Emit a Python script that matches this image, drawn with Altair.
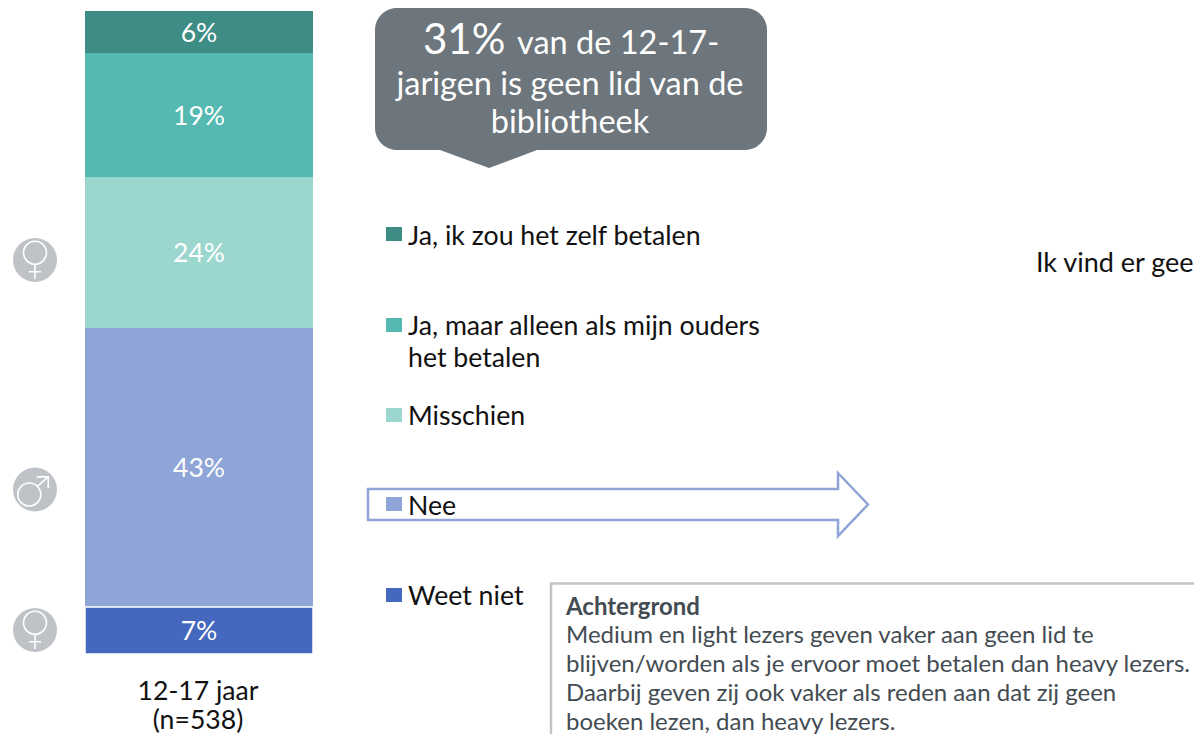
import altair as alt
import pandas as pd

# ---- data
categories = ["Ja, ik zou het zelf betalen", "Ja, maar alleen als mijn ouders\nhet betalen", "Misschien", "Nee", "Weet niet"]
values = [6.53, 19.28, 23.48, 43.39, 7.31]
labels = ["6%", "19%", "24%", "43%", "7%"]
colors = ["#3D8D85", "#55B9B1", "#9BD6CF", "#8FA5D8", "#4468BE"]
group = "12-17 jaar"
group_label = ["12-17 jaar", "(n=538)"]
note_title = "Achtergrond"
note_lines = [
    "Medium en light lezers geven vaker aan geen lid te",
    "blijven/worden als je ervoor moet betalen dan heavy lezers.",
    "Daarbij geven zij ook vaker als reden aan dat zij geen",
    "boeken lezen, dan heavy lezers.",
]
callout_big = "31%"
callout_first = "van de 12-17-"
callout_rest = ["jarigen is geen lid van de", "bibliotheek"]
side_text = "Ik vind er gee"

# ---- layout (page pixels; the chart starts 8px into the page)
OFF = 8
FONT = "Lato"
BLACK = "#111111"
GREY = "#6C767C"
ICON = "#BFC3C7"
NOTE = "#434C52"
LEGEND_BASE = [244.5, 334.5, 424.5, 514.5, 604.5]
LEGEND_BOX = [234, 325, 415, 504, 595]
LEGEND_SECOND = 366.5


def P(v):
    return v - OFF


def text(s, x, y, size, color=BLACK, align="left", weight=400):
    return alt.Chart(pd.DataFrame({"t": [s]})).mark_text(
        font=FONT, fontSize=size, color=color, align=align, baseline="alphabetic",
        fontWeight=weight,
    ).encode(x=alt.value(P(x)), y=alt.value(P(y)), text="t:N")


def shape(path, x, y, unit, fill=None, stroke=None, width=1.5):
    kw = {"shape": path, "size": 4 * unit * unit, "opacity": 1}
    if fill:
        kw.update(filled=True, fill=fill, stroke=None)
    else:
        kw.update(filled=False, stroke=stroke, strokeWidth=width, fillOpacity=0)
    return alt.Chart(pd.DataFrame({"k": [0]})).mark_point(**kw).encode(
        x=alt.value(P(x)), y=alt.value(P(y))
    )


def box(x, x2, y, y2, **kw):
    return alt.Chart(pd.DataFrame({"k": [0]})).mark_rect(**kw).encode(
        x=alt.value(P(x)), x2=alt.value(P(x2)), y=alt.value(P(y)), y2=alt.value(P(y2))
    )


# ---- stacked bar
rows = []
top = 100.0
for i, (c, v, l) in enumerate(zip(categories, values, labels)):
    rows.append({"cat": c, "group": group, "idx": i, "start": top, "end": top - v, "mid": top - v / 2, "label": l})
    top -= v
df = pd.DataFrame(rows)

xs = alt.Scale(domain=[group], range=[P(85), P(313)], paddingInner=0, paddingOuter=0)
ys = alt.Scale(domain=[0, 100], range=[P(654), P(11)])
cs = alt.Scale(domain=categories, range=colors)

bars = alt.Chart(df).mark_rect(stroke="white").encode(
    x=alt.X("group:N", scale=xs, axis=None),
    y=alt.Y("start:Q", scale=ys, axis=None),
    y2="end:Q",
    color=alt.Color("cat:N", scale=cs, legend=None),
    strokeWidth=alt.condition("datum.idx == 4", alt.value(1.5), alt.value(0)),
)
bar_text = alt.Chart(df).mark_text(font=FONT, fontSize=26.5, color="white", baseline="middle", dy=2).encode(
    x=alt.X("group:N", scale=xs, axis=None),
    y=alt.Y("mid:Q", scale=ys, axis=None),
    text="label:N",
)

layers = [bars, bar_text]

# group label
layers += [text(group_label[0], 198, 699.5, 26.6, align="center"), text(group_label[1], 198, 729, 26.6, align="center")]

# gender icons
FEMALE = ("M0,-.365 m-.575,0 a.575,.575 0 1,0 1.15,0 a.575,.575 0 1,0 -1.15,0 "
          "M0,.21 L0,.95 M-.3,.585 L.3,.585")
MALE = ("M-.285,.25 m-.575,0 a.575,.575 0 1,0 1.15,0 a.575,.575 0 1,0 -1.15,0 "
        "M.125,-.165 L.665,-.63 M.085,-.63 L.665,-.63 L.665,-.065")
for cy, glyph in [(260, FEMALE), (489.5, MALE), (630, FEMALE)]:
    layers.append(alt.Chart(pd.DataFrame({"k": [0]})).mark_point(
        shape="circle", filled=True, fill=ICON, size=44 * 44, opacity=1, stroke=None
    ).encode(x=alt.value(P(35)), y=alt.value(P(cy))))
    layers.append(shape(glyph, 35, cy, 20, stroke="white", width=1.6))

# callout
layers.append(box(375, 767, 8, 150, fill=GREY, cornerRadius=22))
layers.append(shape("M-.49,-.09 L0,.09 L.48,-.09 Z", 489, 159, 100, fill=GREY))
layers.append(text(callout_big, 423, 54, 42, color="white"))
layers.append(text(callout_first, 517, 54, 32.5, color="white"))
layers.append(text(callout_rest[0], 570, 95, 32.5, color="white", align="center"))
layers.append(text(callout_rest[1], 570, 133, 32.5, color="white", align="center"))

# arrow behind the "Nee" legend entry
layers.append(shape("M-2.5,-.155 L2.2,-.155 L2.2,-.315 L2.5,0 L2.2,.315 L2.2,.155 L-2.5,.155 Z",
                    618, 504.5, 100, stroke="#8FA5D8", width=2.5))

# legend entries
for c, col, by, ty in zip(categories, colors, LEGEND_BOX, LEGEND_BASE):
    layers.append(box(386, 402, by - 7, by + 7, fill=col))
    parts = c.split("\n")
    layers.append(text(parts[0], 408, ty, 26.7))
    if len(parts) > 1:
        layers.append(text(parts[1], 408, LEGEND_SECOND, 26.7))

# side text, kept whole inside the frame
layers.append(text(side_text, 1036, 272, 27))

# note box
layers.append(box(551, 1215, 583.5, 760, fill="white", stroke="#C0C4C8", strokeWidth=2.5))
layers.append(text(note_title, 566, 615, 24, color=NOTE, weight=700))
for line, y in zip(note_lines, [643, 672, 701, 729.5]):
    layers.append(text(line, 566, y, 24, color=NOTE))

chart = alt.layer(*layers).properties(
    width=1186, height=726, padding=0,
    autosize=alt.AutoSizeParams(type="none"),
).configure_view(stroke=None)

chart.save("out.html", embed_options={"renderer": "svg", "actions": False})
